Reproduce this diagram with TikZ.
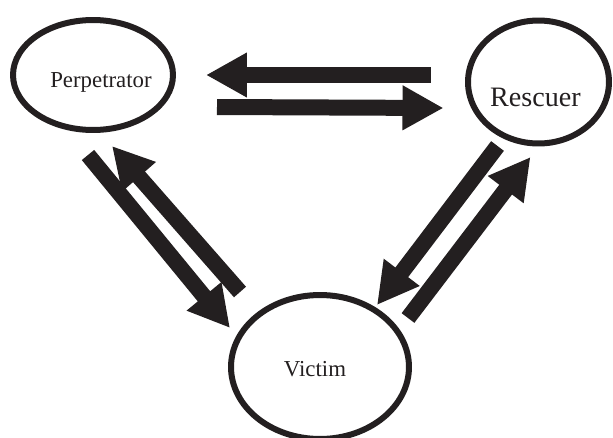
\documentclass[tikz,border=0pt]{standalone}
\usepackage{fontspec}
\setmainfont{Liberation Serif}
\usetikzlibrary{arrows.meta,shapes.geometric}
\definecolor{ink}{HTML}{231F20}
\tikzset{ring/.style={ellipse,draw=ink,line width=0.12cm,inner sep=0pt},fat/.style={-{Triangle[length=0.82cm,width=0.84cm]},line width=0.32cm,draw=ink},lbl/.style={text=ink,font=\fontsize{13}{15}\selectfont}}

\begin{document}
\begin{tikzpicture}[x=0.02cm,y=-0.02cm]
\useasboundingbox (0,0) rectangle (613,437);
\node[ring,minimum width=3.2cm,minimum height=2.2cm,label={[lbl,name=perp-t,xshift=0.16cm,yshift=-0.14cm]center:Perpetrator}] (perp) at (93,75) {};
\node[ring,minimum width=2.82cm,minimum height=2.46cm,label={[lbl,font=\fontsize{16}{19}\selectfont,name=resc-t,xshift=-0.06cm,yshift=-0.3cm]center:Rescuer}] (resc) at (538.5,82) {};
\node[ring,minimum width=3.56cm,minimum height=2.88cm,label={[lbl,name=vict-t,xshift=-0.1cm,yshift=-0.04cm]center:Victim}] (vict) at (320,367) {};
\foreach \aa/\ax/\ay/\bb/\bx/\by in {resc/-108/-7/perp/113/0,perp/124/32/resc/-95/26,perp/-5/80/vict/-90/-39,vict/-80/-75/perp/19/71,resc/-41/64/vict/57/-62,vict/88/-49/resc/-8/75}{\draw[fat]([shift={(\ax,\ay)}]\aa.center)--([shift={(\bx,\by)}]\bb.center);}
\end{tikzpicture}
\end{document}
